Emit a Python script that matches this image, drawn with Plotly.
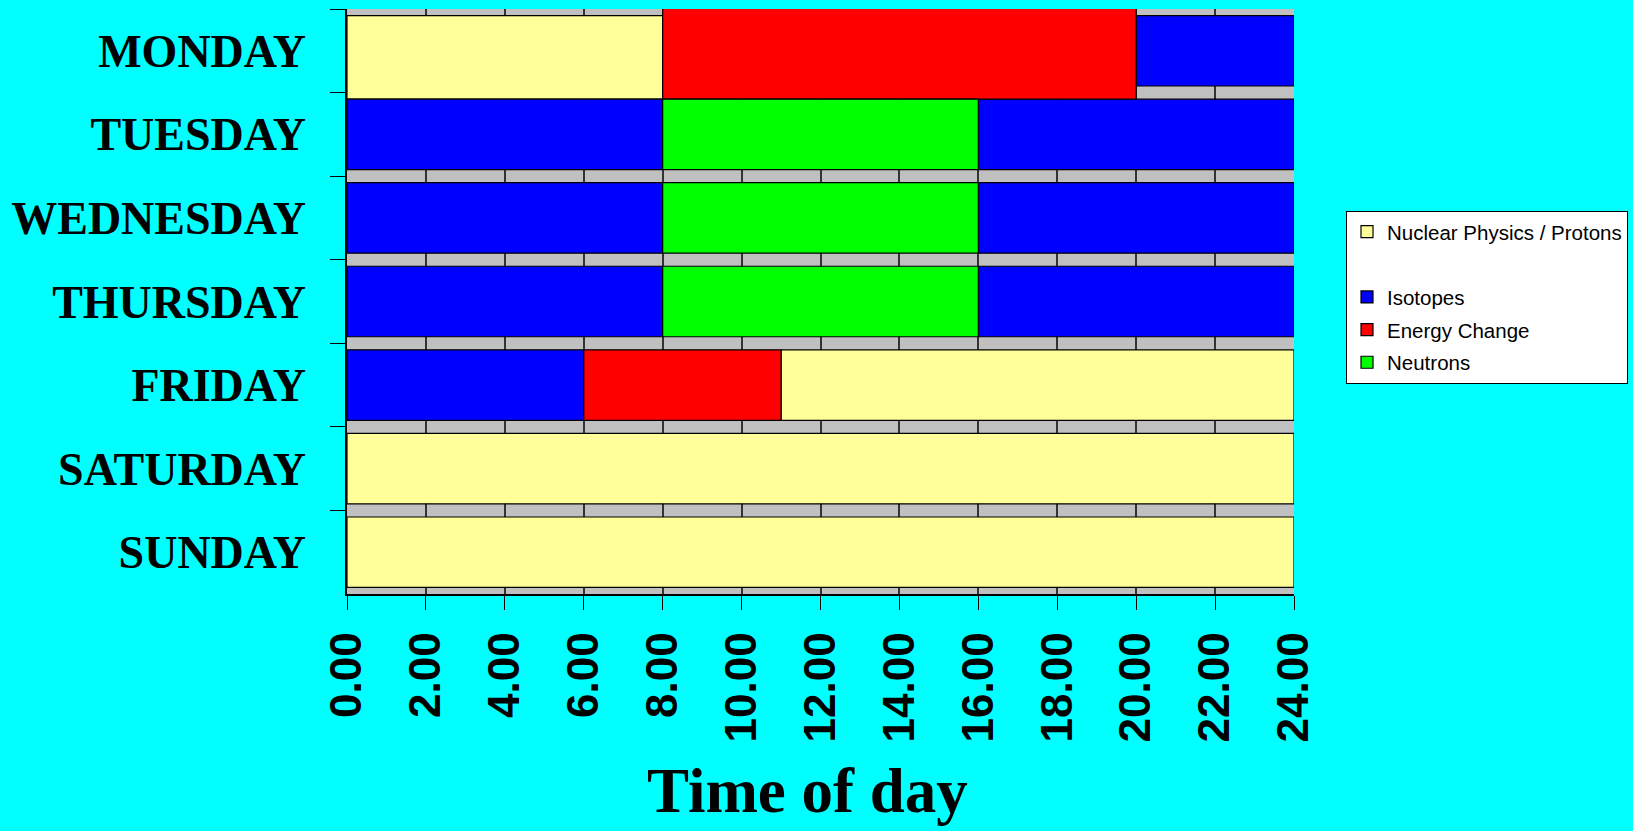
import plotly.graph_objects as go

# ---------------- data ----------------
days = ["MONDAY", "TUESDAY", "WEDNESDAY", "THURSDAY", "FRIDAY", "SATURDAY", "SUNDAY"]
x_ticks = [0, 2, 4, 6, 8, 10, 12, 14, 16, 18, 20, 22, 24]

nuclear_name = "Nuclear Physics / Protons"
nuclear_days = ["MONDAY", "FRIDAY", "SATURDAY", "SUNDAY"]
nuclear_start = [0, 11, 0, 0]
nuclear_end = [8, 24, 24, 24]

blank_name = " "
blank_days = ["MONDAY"]
blank_start = [0]
blank_end = [0]

isotopes_name = "Isotopes"
isotopes_days = ["MONDAY", "TUESDAY", "TUESDAY", "WEDNESDAY", "WEDNESDAY",
                 "THURSDAY", "THURSDAY", "FRIDAY"]
isotopes_start = [20, 0, 16, 0, 16, 0, 16, 0]
isotopes_end = [24, 8, 24, 8, 24, 8, 24, 6]

energy_name = "Energy Change"
energy_days = ["MONDAY", "FRIDAY"]
energy_start = [8, 6]
energy_end = [20, 11]

neutrons_name = "Neutrons"
neutrons_days = ["TUESDAY", "WEDNESDAY", "THURSDAY"]
neutrons_start = [8, 8, 8]
neutrons_end = [16, 16, 16]

# ---------------- styles ----------------
colors = {
    nuclear_name: "#FFFF99",
    blank_name: "rgba(0,0,0,0)",
    isotopes_name: "#0000FF",
    energy_name: "#FF0000",
    neutrons_name: "#00FF00",
}
BAR_W = 0.843
BAR_OFF = -0.4215
# the Monday bars of the original are drawn taller than the others
special = {
    (nuclear_name, "MONDAY"): (-0.42, 0.997),
    (energy_name, "MONDAY"): (-0.519, 1.096),
}

series = [
    (nuclear_name, nuclear_days, nuclear_start, nuclear_end),
    (blank_name, blank_days, blank_start, blank_end),
    (isotopes_name, isotopes_days, isotopes_start, isotopes_end),
    (energy_name, energy_days, energy_start, energy_end),
    (neutrons_name, neutrons_days, neutrons_start, neutrons_end),
]

fig = go.Figure()
for i, (name, dys, st, en) in enumerate(series):
    offs = [special.get((name, d), (BAR_OFF, BAR_W))[0] for d in dys]
    wids = [special.get((name, d), (BAR_OFF, BAR_W))[1] for d in dys]
    blank = name == blank_name
    fig.add_trace(go.Bar(
        name=name,
        y=dys,
        x=[e - s for s, e in zip(st, en)],
        base=st,
        orientation="h",
        offset=offs,
        width=wids,
        marker=dict(color=colors[name],
                    line=dict(color="rgba(0,0,0,0)" if blank else "#000000",
                              width=0 if blank else 1.2)),
        legendgroup="g%d" % i,
        cliponaxis=False,
        hoverinfo="skip" if blank else None,
    ))

L, R, T, B = 347, 1294, 9.3, 594
W, H = 1633, 831

fig.update_layout(
    width=W, height=H,
    paper_bgcolor="#00FFFF",
    plot_bgcolor="#C0C0C0",
    barmode="overlay",
    margin=dict(l=L, r=W - R, t=T, b=H - B, autoexpand=False),
    showlegend=True,
    legend=dict(
        x=(1346 - L) / (R - L), y=(B - 211) / (B - T),
        xanchor="left", yanchor="top",
        bgcolor="#FFFFFF", bordercolor="#000000", borderwidth=1,
        font=dict(family="Arial, Liberation Sans, sans-serif", size=20.5, color="#000000"),
        traceorder="grouped", tracegroupgap=3,
    ),
    xaxis=dict(
        range=[0, 24], tickmode="array", tickvals=x_ticks,
        tickformat=".2f", tickangle=-90,
        ticks="outside", ticklen=14, tickcolor="#000000", tickwidth=1,
        showline=True, linecolor="#000000", linewidth=1.5,
        showgrid=True, gridcolor="#333333", gridwidth=1.5, zeroline=False,
        tickfont=dict(family="Arial, Liberation Sans, sans-serif", size=44,
                      color="#000000", weight="bold"),
        ticklabelstandoff=5,
    ),
    yaxis=dict(
        type="category", categoryorder="array", categoryarray=days,
        range=[6.5, -0.5], tickson="boundaries",
        ticks="outside", ticklen=15, tickcolor="#000000", tickwidth=1,
        showline=True, linecolor="#000000", linewidth=1.5,
        showgrid=False, zeroline=False,
        tickfont=dict(family="Times New Roman, Liberation Serif, serif", size=46,
                      color="#000000", weight="bold"),
        ticklabelstandoff=30,
    ),
    annotations=[dict(
        text="<b>Time of day</b>", showarrow=False,
        xref="paper", yref="paper",
        x=(807.5 - L) / (R - L), y=-(791 - B) / (B - T),
        xanchor="center", yanchor="middle",
        font=dict(family="Times New Roman, Liberation Serif, serif", size=63, color="#000000"),
    )],
)

fig.write_html("out.html",
               config={"displayModeBar": False},
               post_script="document.body.style.margin='0';document.body.style.padding='0';")
